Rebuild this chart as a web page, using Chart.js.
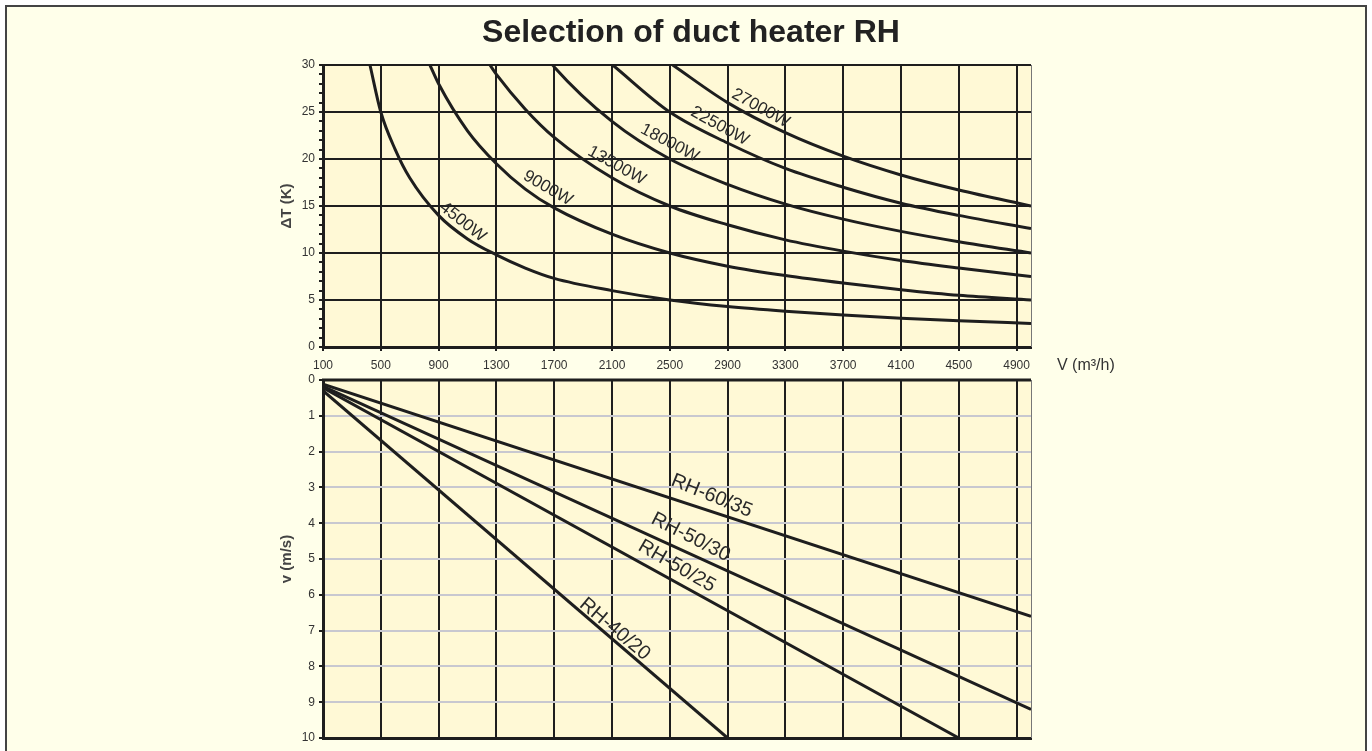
<!DOCTYPE html>
<html>
<head>
<meta charset="utf-8">
<title>Selection of duct heater RH</title>
<script src="https://cdn.jsdelivr.net/npm/chart.js@4.4.1/dist/chart.umd.min.js"></script>
<style>
    html, body { margin: 0; padding: 0; background: #ffffff; overflow: hidden; }
    #frame {
        position: absolute; left: 5px; top: 5px;
        width: 1358px; height: 800px;
        border: 2px solid #444;
        background: #FFFFEA;
    }
    canvas { position: absolute; left: 0; top: 0; }
</style>
</head>
<body>
<div id="frame"></div>
<canvas id="heatChart" width="1372" height="751"></canvas>
<canvas id="speedChart" width="1372" height="751"></canvas>
<script>
// Air flow ticks shared by both charts (m3/h)
const flowTicks = [100, 500, 900, 1300, 1700, 2100, 2500, 2900, 3300, 3700, 4100, 4500, 4900];

// Heater power curves: [V (m3/h), dT (K)]
const heaterPowers = ['4500W', '9000W', '13500W', '18000W', '22500W', '27000W'];
const curve4500 = [[425, 30], [500, 25], [600, 21], [700, 18], [900, 14], [1100, 11.5], [1300, 9.8], [1500, 8.4], [1700, 7.3], [2100, 6], [2500, 5], [2900, 4.3], [3300, 3.8], [3700, 3.4], [4100, 3.05], [4500, 2.8], [5000, 2.5]];
const curve9000 = [[840, 30], [900, 28], [1100, 23], [1300, 19.5], [1500, 16.8], [1700, 14.8], [2100, 12], [2500, 10], [2900, 8.6], [3300, 7.6], [3700, 6.8], [4100, 6.1], [4500, 5.5], [5000, 5]];
const curve13500 = [[1255, 30], [1300, 29], [1500, 25.3], [1700, 22.3], [2100, 18], [2500, 15], [2900, 13], [3300, 11.4], [3700, 10.2], [4100, 9.2], [4500, 8.4], [5000, 7.5]];
const curve18000 = [[1690, 30], [1700, 29.8], [2100, 24], [2500, 20], [2900, 17.3], [3300, 15.2], [3700, 13.6], [4100, 12.3], [4500, 11.2], [5000, 10]];
const curve22500 = [[2105, 30], [2500, 25], [2900, 21.7], [3300, 19], [3700, 17], [4100, 15.3], [4500, 14], [5000, 12.6]];
const curve27000 = [[2520, 30], [2900, 26], [3300, 22.8], [3700, 20.3], [4100, 18.3], [4500, 16.7], [5000, 15]];
const heaterCurves = [curve4500, curve9000, curve13500, curve18000, curve22500, curve27000];

// Duct models: [V (m3/h), v (m/s)]
const ductModels = ['RH-40/20', 'RH-50/25', 'RH-50/30', 'RH-60/35'];
const line4020 = [[100, 0.3], [2900, 10]];
const line5025 = [[100, 0.22], [4500, 10]];
const line5030 = [[100, 0.18], [5000, 9.2]];
const line6035 = [[100, 0.12], [5000, 6.6]];
const ductLines = [line4020, line5025, line5030, line6035];

// Where the curve names sit, in data units, with text angle in degrees
const heaterLabelSpots = [[1068, 13.3, 38], [1656, 16.9, 30], [2133, 19.3, 29], [2500, 21.7, 28], [2846, 23.5, 29], [3129, 25.4, 29]];
const ductLabelSpots = [[2120, 6.96, 40], [2548, 5.2, 30], [2645, 4.39, 27], [2790, 3.24, 22]];

const FONT = "'Liberation Sans', Arial, sans-serif";
const INK = '#1e1e1e';

const toPoints = pairs => pairs.map(([x, y]) => ({ x, y }));

// Fill the plot area and draw the frame parts the axes don't cover
const plotBackground = {
    id: 'plotBackground',
    beforeDraw(chart) {
        const { ctx, chartArea: a } = chart;
        ctx.save();
        ctx.fillStyle = '#FFF9D6';
        ctx.fillRect(a.left, a.top, a.right - a.left, a.bottom - a.top);
        ctx.restore();
    },
    afterDraw(chart, args, opts) {
        const { ctx, chartArea: a } = chart;
        ctx.save();
        ctx.strokeStyle = '#777';
        ctx.lineWidth = 1;
        ctx.beginPath();
        ctx.moveTo(a.right + 0.5, a.top);
        ctx.lineTo(a.right + 0.5, a.bottom);
        ctx.stroke();
        if (opts.topLine) {
            ctx.strokeStyle = INK;
            ctx.lineWidth = 3;
            ctx.beginPath();
            ctx.moveTo(a.left - 1, a.top);
            ctx.lineTo(a.right, a.top);
            ctx.stroke();
        }
        ctx.restore();
    }
};

// Rotated names along the curves
const curveLabels = {
    id: 'curveLabels',
    afterDatasetsDraw(chart, args, opts) {
        const { ctx, scales } = chart;
        ctx.save();
        ctx.fillStyle = '#2a2a2a';
        ctx.font = opts.size + 'px ' + FONT;
        ctx.textAlign = 'center';
        ctx.textBaseline = 'middle';
        opts.names.forEach((name, i) => {
            const [vx, vy, deg] = opts.spots[i];
            ctx.save();
            ctx.translate(scales.x.getPixelForValue(vx), scales.y.getPixelForValue(vy));
            ctx.rotate(deg * Math.PI / 180);
            ctx.fillText(name, 0, 0);
            ctx.restore();
        });
        ctx.restore();
    }
};

// Titles drawn as canvas text
const chartTexts = {
    id: 'chartTexts',
    afterDraw(chart, args, opts) {
        const { ctx, chartArea: a } = chart;
        ctx.save();
        if (opts.title) {
            ctx.fillStyle = '#222';
            ctx.font = 'bold 32px ' + FONT;
            ctx.textAlign = 'center';
            ctx.textBaseline = 'middle';
            ctx.fillText(opts.title, 691, 33);
        }
        if (opts.xTitle) {
            ctx.fillStyle = '#333';
            ctx.font = '16px ' + FONT;
            ctx.textAlign = 'left';
            ctx.textBaseline = 'middle';
            ctx.fillText(opts.xTitle, 1057, a.bottom + 19);
        }
        ctx.fillStyle = '#444';
        ctx.font = 'bold 15px ' + FONT;
        ctx.textAlign = 'center';
        ctx.textBaseline = 'middle';
        ctx.translate(287, (a.top + a.bottom) / 2);
        ctx.rotate(-Math.PI / 2);
        ctx.fillText(opts.yTitle, 0, 0);
        ctx.restore();
    }
};

const tickFont = { family: FONT, size: 12 };

function flowAxis(showLabels, height) {
    return {
        type: 'linear',
        min: 100,
        max: 5000,
        afterBuildTicks: axis => { axis.ticks = flowTicks.map(v => ({ value: v })); },
        afterFit: axis => { axis.height = height; },
        grid: { color: INK, lineWidth: 2, drawTicks: showLabels, tickLength: 4, tickColor: INK },
        border: { color: INK, width: 3 },
        ticks: {
            display: showLabels,
            autoSkip: false,
            maxRotation: 0,
            padding: 7,
            color: '#333',
            font: tickFont,
            callback: v => String(v)
        }
    };
}

new Chart(document.getElementById('heatChart'), {
    type: 'line',
    data: {
        datasets: heaterPowers.map((p, i) => ({
            label: p,
            data: toPoints(heaterCurves[i]),
            borderColor: INK,
            borderWidth: 3,
            pointRadius: 0,
            fill: false,
            cubicInterpolationMode: 'monotone'
        }))
    },
    options: {
        responsive: false,
        animation: false,
        layout: { padding: { left: 283, right: 1372 - 1031, top: 65, bottom: 751 - 347 - 30 } },
        plugins: {
            legend: { display: false },
            tooltip: { enabled: false },
            curveLabels: { names: heaterPowers, spots: heaterLabelSpots, size: 17 },
            chartTexts: { title: 'Selection of duct heater RH', xTitle: 'V (m³/h)', yTitle: '\u0394T (K)' },
            plotBackground: { topLine: false }
        },
        scales: {
            x: flowAxis(true, 30),
            y: {
                min: 0,
                max: 30,
                afterFit: axis => { axis.width = 40; },
                grid: {
                    color: c => (c.tick && c.tick.value % 5 === 0) ? INK : 'rgba(0,0,0,0)',
                    lineWidth: 2,
                    tickLength: 4,
                    tickColor: INK
                },
                border: { color: INK, width: 3 },
                ticks: {
                    stepSize: 1,
                    autoSkip: false,
                    padding: 4,
                    color: '#333',
                    font: tickFont,
                    callback: v => (v % 5 === 0 ? String(v) : '')
                }
            }
        }
    },
    plugins: [plotBackground, curveLabels, chartTexts]
});

new Chart(document.getElementById('speedChart'), {
    type: 'line',
    data: {
        datasets: ductModels.map((m, i) => ({
            label: m,
            data: toPoints(ductLines[i]),
            borderColor: INK,
            borderWidth: 3,
            pointRadius: 0,
            fill: false
        }))
    },
    options: {
        responsive: false,
        animation: false,
        layout: { padding: { left: 283, right: 1372 - 1031, top: 380, bottom: 13 } },
        plugins: {
            legend: { display: false },
            tooltip: { enabled: false },
            curveLabels: { names: ductModels, spots: ductLabelSpots, size: 20 },
            chartTexts: { yTitle: 'v (m/s)' },
            plotBackground: { topLine: true }
        },
        scales: {
            x: flowAxis(false, 0),
            y: {
                reverse: true,
                min: 0,
                max: 10,
                afterFit: axis => { axis.width = 40; },
                grid: { color: '#C8C8D0', lineWidth: 2, tickLength: 4, tickColor: INK },
                border: { color: INK, width: 3 },
                ticks: { stepSize: 1, autoSkip: false, padding: 4, color: '#333', font: tickFont }
            }
        }
    },
    plugins: [plotBackground, curveLabels, chartTexts]
});
</script>
</body>
</html>
